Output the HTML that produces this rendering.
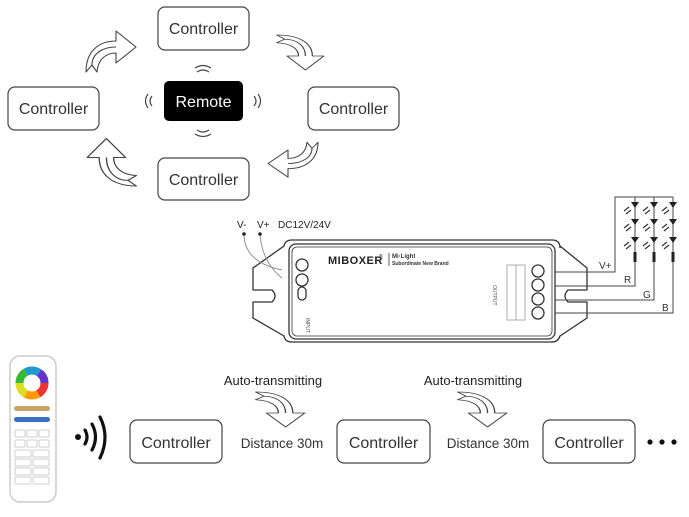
<!DOCTYPE html>
<html><head><meta charset="utf-8"><style>
html,body{margin:0;padding:0;background:#fff;}
svg{display:block;}
text{font-family:"Liberation Sans",Arial,sans-serif;}
</style></head><body>
<svg width="689" height="517" viewBox="0 0 689 517" xmlns="http://www.w3.org/2000/svg">
<defs>
<path id="arr" d="M0,42 C0,20 14,11 30,11 L30,1 L50,17 L30,33 L30,23 C20,23 12,29 11,42 L6,35 Z M6,35 C6,24 16,17 30,17" fill="#fff" stroke="#444" stroke-width="1.1" stroke-linejoin="round"/>
</defs>
<g fill="#fff" stroke="#444" stroke-width="1.2">
<rect x="158" y="7" width="91" height="43" rx="7"/>
<rect x="8" y="87" width="91" height="43" rx="7"/>
<rect x="308" y="87" width="91" height="43" rx="7"/>
<rect x="158" y="158" width="91" height="42" rx="7"/>
</g>
<rect x="164" y="81" width="79" height="40" rx="5" fill="#000"/>
<g font-size="16" fill="#333" text-anchor="middle">
<text x="203.5" y="34">Controller</text>
<text x="53.5" y="114">Controller</text>
<text x="353.5" y="114">Controller</text>
<text x="203.5" y="185">Controller</text>
<text x="203.5" y="107" fill="#fff">Remote</text>
</g>
<g fill="none" stroke="#444" stroke-width="1.2">
<path d="M197,72 Q203,68 209,72 M195,68 Q203,63 211,68"/>
<path d="M197,130 Q203,134 209,130 M195,134 Q203,139 211,134"/>
<path d="M152,96 Q148,101 152,106 M148,94 Q143,101 148,108"/>
<path d="M254,96 Q258,101 254,106 M258,94 Q263,101 258,108"/>
</g>
<use href="#arr" transform="translate(86,30) scale(1,1)"/>
<use href="#arr" transform="translate(325,35) rotate(90) scale(0.7,1.15)"/>
<use href="#arr" transform="translate(318,178) rotate(180) scale(1,0.85)"/>
<use href="#arr" transform="translate(86,186) rotate(270) scale(0.95,1.2)"/>

<!-- device -->
<g fill="none" stroke="#333" stroke-width="1.3">
<path d="M292,240 L552,240 Q560,240 560,248 L560,246 L587,268 L587,290 L568,290 Q562,296 568,302 L587,302 L587,318 L560,336 Q558,342 552,342 L292,342 Q285,342 284,336 L253,318 L253,302 L272,302 Q278,296 272,290 L253,290 L253,268 L284,246 Q285,240 292,240 Z"/>
<rect x="289" y="244" width="266" height="95" rx="7"/>
<rect x="292" y="247" width="260" height="89" rx="5" stroke-width="0.8"/>
<path d="M244,234 Q244,262 282,270 M260,234 Q262,262 282,278" stroke="#888" stroke-width="0.9"/>
<circle cx="302" cy="265" r="6"/><circle cx="302" cy="280" r="6"/>
<rect x="298" y="287" width="8" height="13" rx="4"/>
<circle cx="538" cy="271" r="6"/><circle cx="538" cy="285" r="6"/><circle cx="538" cy="299" r="6"/><circle cx="538" cy="313" r="6"/>
<rect x="507" y="265" width="18" height="55" stroke="#999" stroke-width="0.8"/>
<line x1="516" y1="265" x2="516" y2="320" stroke="#999" stroke-width="0.8"/>
</g>
<circle cx="244" cy="234" r="1.8" fill="#222"/><circle cx="260" cy="234" r="1.8" fill="#222"/>
<g font-size="10" fill="#222"><text x="237" y="228">V-</text><text x="257" y="228">V+</text><text x="278" y="228">DC12V/24V</text></g>
<text x="328" y="264" font-size="11" font-weight="bold" fill="#222" letter-spacing="0.5">MIBOXER</text>
<text x="379" y="258" font-size="5" fill="#222">®</text>
<line x1="389" y1="253" x2="389" y2="266" stroke="#333" stroke-width="0.8"/>
<text x="392" y="258" font-size="6" font-weight="bold" fill="#333" font-family="Liberation Serif">Mi·Light</text>
<text x="392" y="265" font-size="5" font-weight="bold" fill="#333" font-family="Liberation Serif">Subordinate New Brand</text>
<text x="318" y="330" font-size="5" fill="#555" transform="rotate(90 318 318)">INPUT</text>
<text x="510" y="302" font-size="5" fill="#555" transform="rotate(90 510 285)">OUTPUT</text>
<!-- wires -->
<g fill="none" stroke="#444" stroke-width="1">
<path d="M555,272 L615,272 L615,197 L673,197"/>
<path d="M555,286 L635,286 L635,197"/>
<path d="M555,300 L654,300 L654,197"/>
<path d="M555,313 L673,313 L673,197"/>
</g>
<g fill="#222">
<g id="col">
<path d="M631,202 L639,202 L635,208 Z M631,219 L639,219 L635,225 Z M631,237 L639,237 L635,243 Z"/>
<rect x="633.5" y="252" width="3" height="10"/>
<path d="M624,211 l5,-4 M626,214 l5,-4 M624,228 l5,-4 M626,231 l5,-4 M624,246 l5,-4 M626,249 l5,-4" stroke="#333" stroke-width="1.2"/>
</g>
<use href="#col" transform="translate(19,0)"/>
<use href="#col" transform="translate(38,0)"/>
</g>
<g font-size="10" fill="#333"><text x="599" y="269">V+</text><text x="624" y="283">R</text><text x="643" y="298">G</text><text x="662" y="311">B</text></g>

<!-- bottom -->
<rect x="10" y="356" width="46" height="146" rx="10" fill="#fff" stroke="#ccc" stroke-width="1.5"/>
<circle cx="32" cy="382" r="13" fill="none" stroke="url(#none)" stroke-width="0"/>
<g fill="none" stroke-width="8">
<circle cx="32" cy="383" r="12.5" stroke="#e33" stroke-dasharray="13 100"/>
<circle cx="32" cy="383" r="12.5" stroke="#f90" stroke-dasharray="0 13 13 100"/>
<circle cx="32" cy="383" r="12.5" stroke="#dd2" stroke-dasharray="0 26 13 100"/>
<circle cx="32" cy="383" r="12.5" stroke="#3b3" stroke-dasharray="0 39 13 100"/>
<circle cx="32" cy="383" r="12.5" stroke="#29c" stroke-dasharray="0 52 14 100"/>
<circle cx="32" cy="383" r="12.5" stroke="#63c" stroke-dasharray="0 66 13 100"/>
</g>
<rect x="14" y="406" width="36" height="5" rx="2.5" fill="#c9a36a"/>
<rect x="14" y="417" width="36" height="5" rx="2.5" fill="#3a6fc4"/>
<g fill="none" stroke="#ccc" stroke-width="1">
<rect x="15" y="430" width="10" height="7" rx="1"/><rect x="27" y="430" width="10" height="7" rx="1"/><rect x="39" y="430" width="10" height="7" rx="1"/>
<rect x="15" y="440" width="10" height="7" rx="1"/><rect x="27" y="440" width="10" height="7" rx="1"/><rect x="39" y="440" width="10" height="7" rx="1"/>
<rect x="15" y="450" width="16" height="7" rx="1"/><rect x="33" y="450" width="16" height="7" rx="1"/>
<rect x="15" y="459" width="16" height="7" rx="1"/><rect x="33" y="459" width="16" height="7" rx="1"/>
<rect x="15" y="468" width="16" height="7" rx="1"/><rect x="33" y="468" width="16" height="7" rx="1"/>
<rect x="15" y="477" width="16" height="7" rx="1"/><rect x="33" y="477" width="16" height="7" rx="1"/>
</g>
<circle cx="78" cy="437" r="3" fill="#111"/>
<g fill="none" stroke="#111" stroke-width="3.2" stroke-linecap="round">
<path d="M85,430 Q89,437 85,444"/>
<path d="M92,424 Q99,437 92,450"/>
<path d="M100,417 Q110,437 100,458"/>
</g>
<g fill="#fff" stroke="#444" stroke-width="1.2">
<rect x="130" y="420" width="92" height="43" rx="7"/>
<rect x="337" y="420" width="93" height="43" rx="7"/>
<rect x="543" y="420" width="92" height="43" rx="7"/>
</g>
<g font-size="16" fill="#333" text-anchor="middle">
<text x="176" y="448">Controller</text>
<text x="383.5" y="448">Controller</text>
<text x="589" y="448">Controller</text>
</g>
<g font-size="13.5" fill="#333" text-anchor="middle">
<text x="282" y="448">Distance 30m</text>
<text x="488" y="448">Distance 30m</text>
</g>
<g font-size="13" fill="#222" text-anchor="middle">
<text x="273" y="385">Auto-transmitting</text>
<text x="473" y="385">Auto-transmitting</text>
</g>
<use href="#arr" transform="translate(306,392) rotate(90) scale(0.7,1.2)"/>
<use href="#arr" transform="translate(508,392) rotate(90) scale(0.7,1.2)"/>
<g fill="#111"><circle cx="650" cy="442" r="2.6"/><circle cx="662" cy="442" r="2.6"/><circle cx="674" cy="442" r="2.6"/></g>
</svg>
</body></html>
